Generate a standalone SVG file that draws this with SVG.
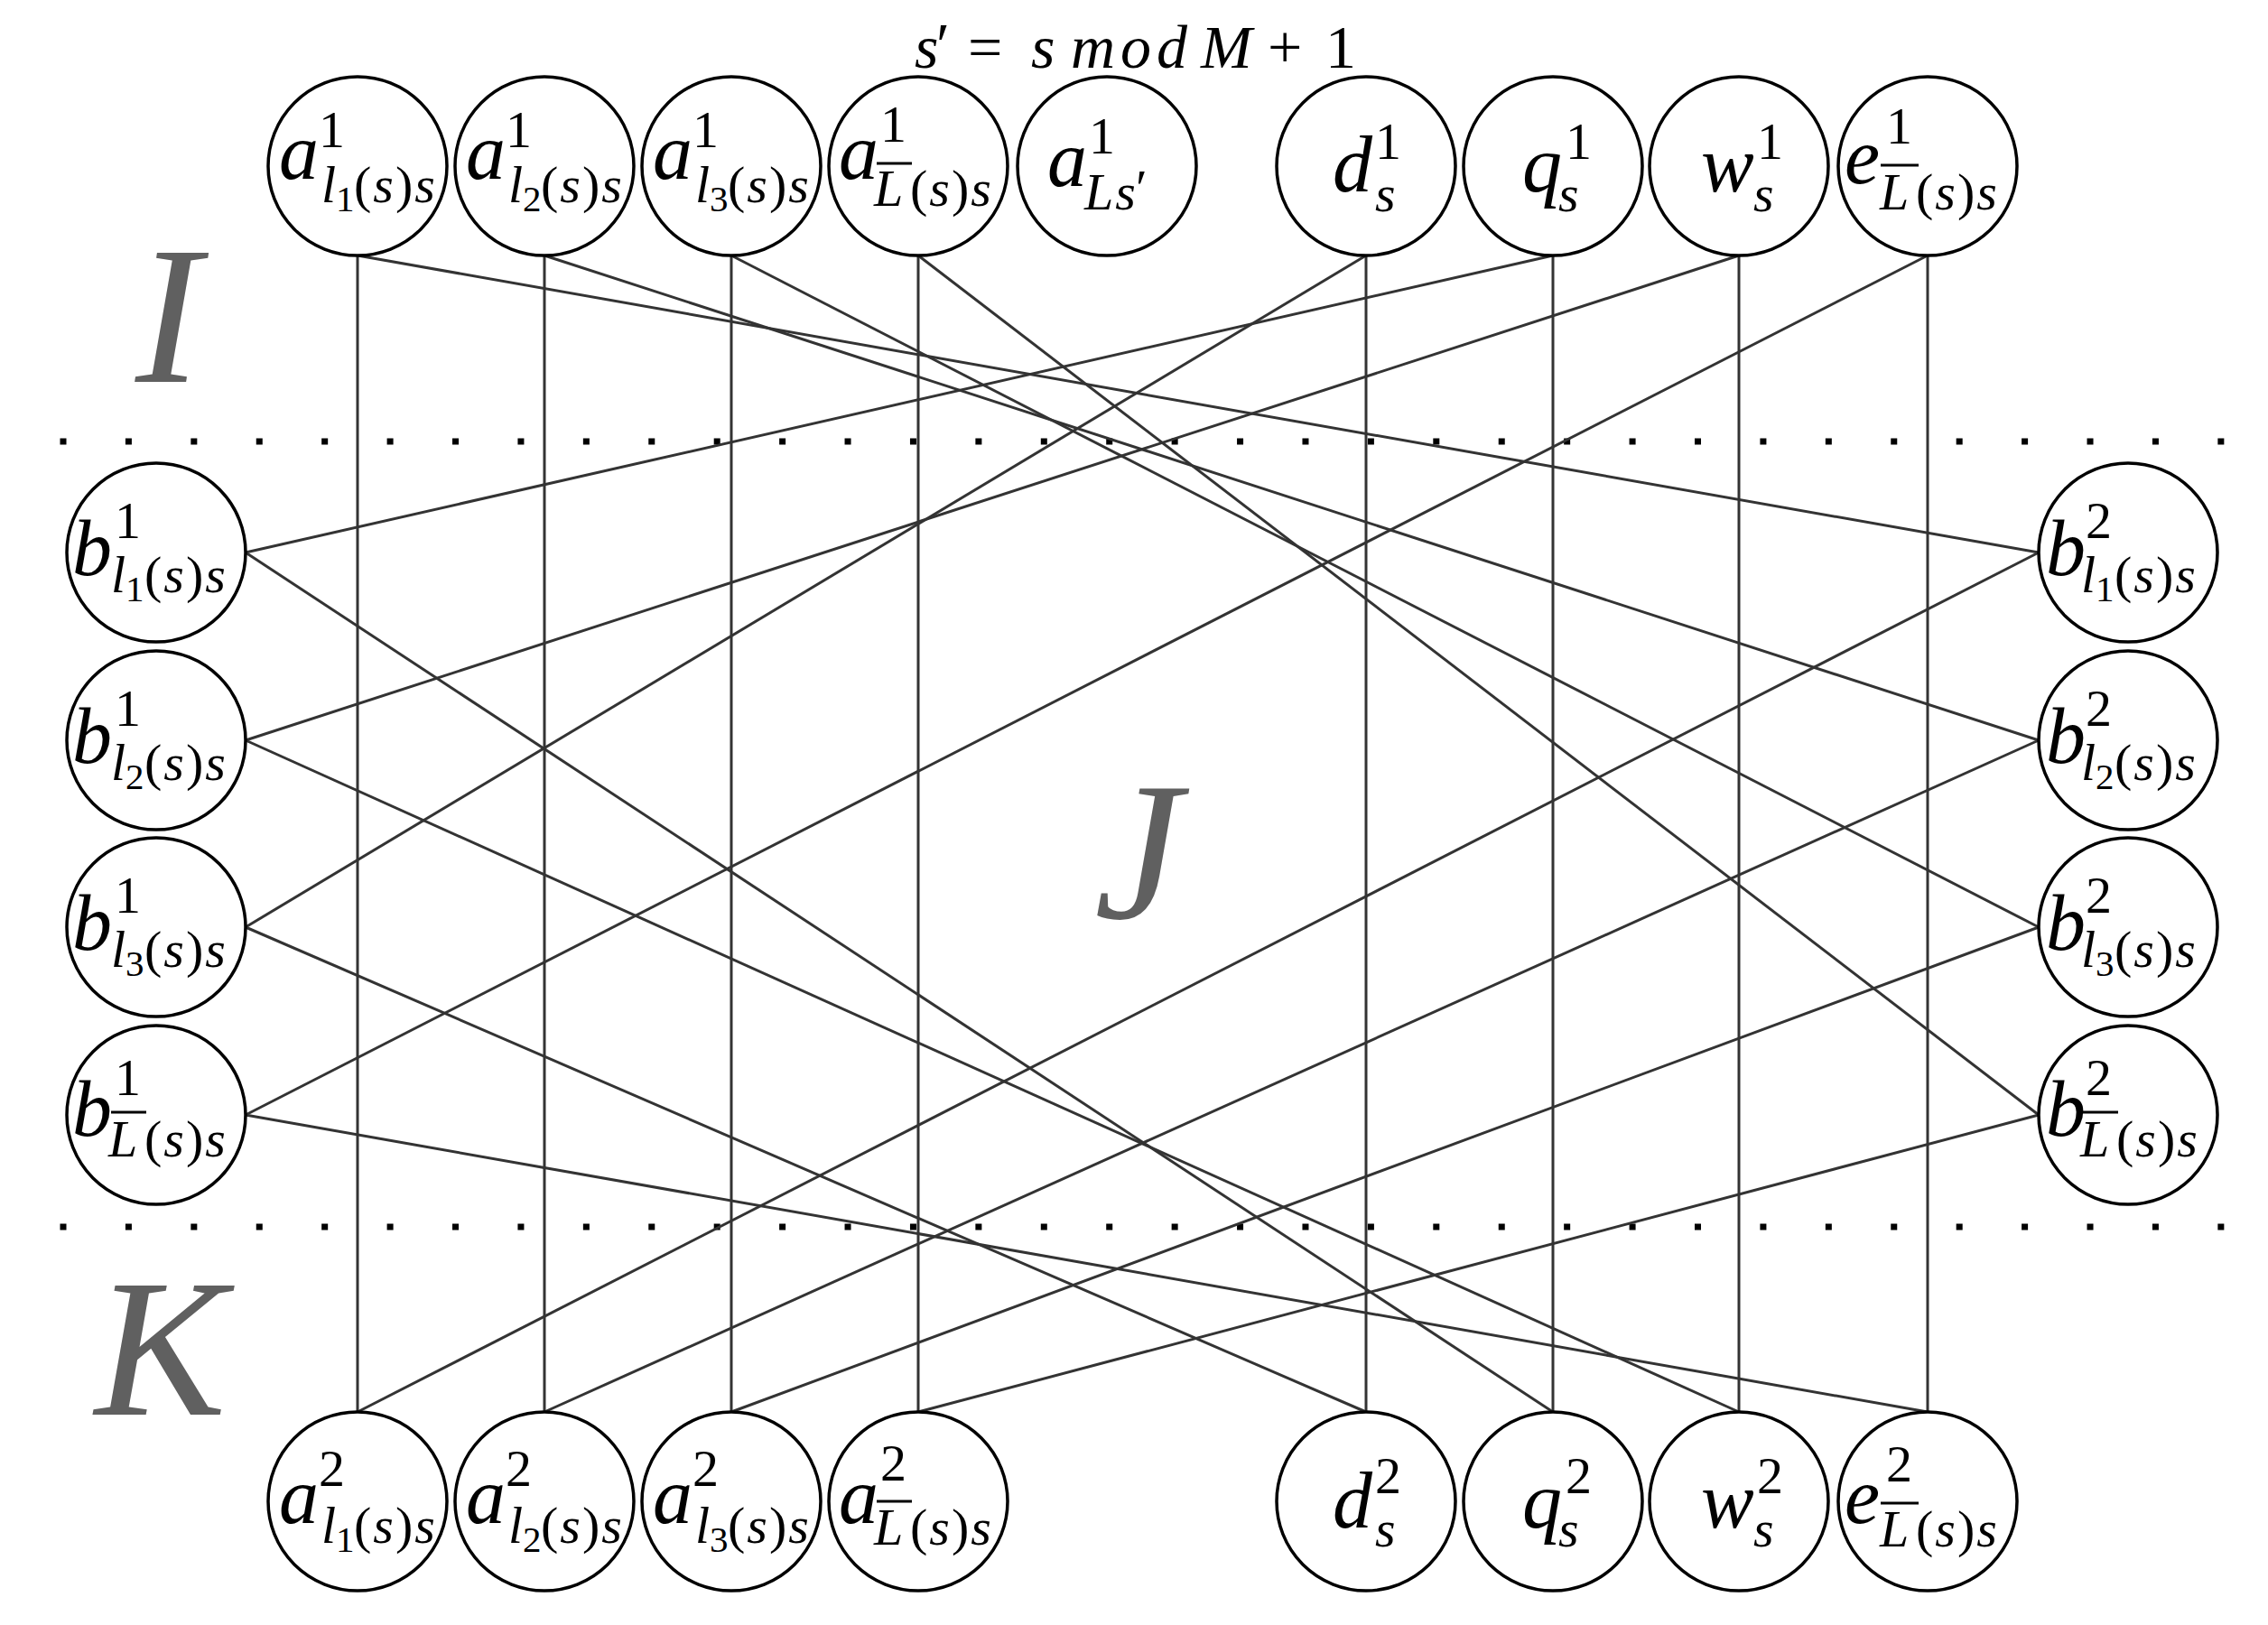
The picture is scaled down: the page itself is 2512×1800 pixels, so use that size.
<svg xmlns="http://www.w3.org/2000/svg" width="2512" height="1800" viewBox="0 0 2512 1800">
<style>
.m{font-family:"Liberation Serif","DejaVu Serif",serif;font-style:italic;fill:#000}
.L1{font-size:88px}
.L2{font-size:58px;letter-spacing:2px}
.L3{font-size:41px}
.n{font-style:normal}
.big{font-family:"Liberation Serif","DejaVu Serif",serif;font-style:italic;font-size:218px;fill:#606060}
.node{fill:#fff;stroke:#000;stroke-width:3.5}
.ob{stroke:#000;stroke-width:3}
.con line{stroke:#333;stroke-width:3;fill:none}
.dots{stroke:#000;stroke-width:7;stroke-dasharray:7 65.42}
</style>
<rect width="2512" height="1800" fill="#fff"/>

<line class="dots" x1="66.5" y1="489" x2="2475" y2="489"/>
<line class="dots" x1="66.5" y1="1359" x2="2475" y2="1359"/>

<g id="connectors" class="con">
<line x1="396" y1="283" x2="396" y2="1564"/>
<line x1="603" y1="283" x2="603" y2="1564"/>
<line x1="810" y1="283" x2="810" y2="1564"/>
<line x1="1017" y1="283" x2="1017" y2="1564"/>
<line x1="1513" y1="283" x2="1513" y2="1564"/>
<line x1="1720" y1="283" x2="1720" y2="1564"/>
<line x1="1926" y1="283" x2="1926" y2="1564"/>
<line x1="2135" y1="283" x2="2135" y2="1564"/>
<line x1="396" y1="283" x2="2258" y2="612"/>
<line x1="603" y1="283" x2="2258" y2="820"/>
<line x1="810" y1="283" x2="2258" y2="1027"/>
<line x1="1017" y1="283" x2="2258" y2="1235"/>
<line x1="1720" y1="283" x2="272" y2="612"/>
<line x1="1926" y1="283" x2="272" y2="820"/>
<line x1="1513" y1="283" x2="272" y2="1027"/>
<line x1="2135" y1="283" x2="272" y2="1235"/>
<line x1="272" y1="612" x2="1720" y2="1564"/>
<line x1="272" y1="820" x2="1926" y2="1564"/>
<line x1="272" y1="1027" x2="1513" y2="1564"/>
<line x1="272" y1="1235" x2="2135" y2="1564"/>
<line x1="2258" y1="612" x2="396" y2="1564"/>
<line x1="2258" y1="820" x2="603" y2="1564"/>
<line x1="2258" y1="1027" x2="810" y2="1564"/>
<line x1="2258" y1="1235" x2="1017" y2="1564"/>
</g>

<g id="title">
<text class="m" font-size="68"><tspan x="1013" y="75">s</tspan><tspan x="1037" y="72" class="n">′</tspan><tspan x="1072" y="75" class="n">=</tspan><tspan x="1142" y="75">s</tspan><tspan x="1186" y="75" letter-spacing="6">mod</tspan><tspan x="1330" y="75">M</tspan><tspan x="1404" y="75" class="n">+</tspan><tspan x="1468" y="75" class="n">1</tspan></text>
</g>

<g id="region-labels">
<text class="big" x="150" y="423">I</text>
<text class="big" x="1212" y="1017">J</text>
<text class="big" x="105" y="1567">K</text>
</g>

<!-- top row -->
<g id="a1-l1">
<circle class="node" cx="396" cy="184" r="99"/>
<text class="m"><tspan class="L1" x="309" y="198">a</tspan><tspan class="L2 n" x="353" y="163">1</tspan><tspan class="L2" x="356" y="224">l</tspan><tspan class="L3 n" x="372" y="234">1</tspan><tspan class="L2" x="392" y="224"><tspan class="n">(</tspan>s<tspan class="n">)</tspan>s</tspan></text>
</g>
<g id="a1-l2">
<circle class="node" cx="603" cy="184" r="99"/>
<text class="m"><tspan class="L1" x="516" y="198">a</tspan><tspan class="L2 n" x="560" y="163">1</tspan><tspan class="L2" x="563" y="224">l</tspan><tspan class="L3 n" x="579" y="234">2</tspan><tspan class="L2" x="599" y="224"><tspan class="n">(</tspan>s<tspan class="n">)</tspan>s</tspan></text>
</g>
<g id="a1-l3">
<circle class="node" cx="810" cy="184" r="99"/>
<text class="m"><tspan class="L1" x="723" y="198">a</tspan><tspan class="L2 n" x="767" y="163">1</tspan><tspan class="L2" x="770" y="224">l</tspan><tspan class="L3 n" x="786" y="234">3</tspan><tspan class="L2" x="806" y="224"><tspan class="n">(</tspan>s<tspan class="n">)</tspan>s</tspan></text>
</g>
<g id="a1-Lbar">
<circle class="node" cx="1017" cy="184" r="99"/>
<line class="ob" x1="971" y1="181" x2="1010" y2="181"/>
<text class="m"><tspan class="L2 n" x="975" y="157">1</tspan><tspan class="L1" x="929" y="198">a</tspan><tspan class="L2" x="968" y="228">L</tspan><tspan class="L2" x="1008" y="228"><tspan class="n">(</tspan>s<tspan class="n">)</tspan>s</tspan></text>
</g>
<g id="a1-Ls">
<circle class="node" cx="1226" cy="184" r="99"/>
<text class="m"><tspan class="L1" x="1160" y="206">a</tspan><tspan class="L2 n" x="1206" y="170">1</tspan><tspan class="L2" x="1201" y="232">Ls</tspan><tspan class="L2 n" x="1258" y="228">′</tspan></text>
</g>
<g id="d1">
<circle class="node" cx="1513" cy="184" r="99"/>
<text class="m"><tspan class="L1" x="1476" y="212">d</tspan><tspan class="L2 n" x="1523" y="176">1</tspan><tspan class="L2" x="1523" y="234">s</tspan></text>
</g>
<g id="q1">
<circle class="node" cx="1720" cy="184" r="99"/>
<text class="m"><tspan class="L1" x="1686" y="212">q</tspan><tspan class="L2 n" x="1734" y="176">1</tspan><tspan class="L2" x="1726" y="234">s</tspan></text>
</g>
<g id="w1">
<circle class="node" cx="1926" cy="184" r="99"/>
<text class="m"><tspan class="L1" x="1884" y="212">w</tspan><tspan class="L2 n" x="1946" y="176">1</tspan><tspan class="L2" x="1942" y="234">s</tspan></text>
</g>
<g id="e1-Lbar">
<circle class="node" cx="2135" cy="184" r="99"/>
<line class="ob" x1="2083" y1="183" x2="2125" y2="183"/>
<text class="m"><tspan class="L1" x="2043" y="203">e</tspan><tspan class="L2 n" x="2089" y="159">1</tspan><tspan class="L2" x="2082" y="232">L</tspan><tspan class="L2" x="2122" y="232"><tspan class="n">(</tspan>s<tspan class="n">)</tspan>s</tspan></text>
</g>

<!-- left column -->
<g id="b1-l1">
<circle class="node" cx="173" cy="612" r="99"/>
<text class="m"><tspan class="L1" x="80" y="637">b</tspan><tspan class="L2 n" x="127" y="596">1</tspan><tspan class="L2" x="123" y="656">l</tspan><tspan class="L3 n" x="139" y="666">1</tspan><tspan class="L2" x="160" y="656"><tspan class="n">(</tspan>s<tspan class="n">)</tspan>s</tspan></text>
</g>
<g id="b1-l2">
<circle class="node" cx="173" cy="820" r="99"/>
<text class="m"><tspan class="L1" x="80" y="845">b</tspan><tspan class="L2 n" x="127" y="804">1</tspan><tspan class="L2" x="123" y="864">l</tspan><tspan class="L3 n" x="139" y="874">2</tspan><tspan class="L2" x="160" y="864"><tspan class="n">(</tspan>s<tspan class="n">)</tspan>s</tspan></text>
</g>
<g id="b1-l3">
<circle class="node" cx="173" cy="1027" r="99"/>
<text class="m"><tspan class="L1" x="80" y="1052">b</tspan><tspan class="L2 n" x="127" y="1011">1</tspan><tspan class="L2" x="123" y="1071">l</tspan><tspan class="L3 n" x="139" y="1081">3</tspan><tspan class="L2" x="160" y="1071"><tspan class="n">(</tspan>s<tspan class="n">)</tspan>s</tspan></text>
</g>
<g id="b1-Lbar">
<circle class="node" cx="173" cy="1235" r="99"/>
<line class="ob" x1="123" y1="1232" x2="162" y2="1232"/>
<text class="m"><tspan class="L1" x="80" y="1258">b</tspan><tspan class="L2 n" x="127" y="1213">1</tspan><tspan class="L2" x="120" y="1281">L</tspan><tspan class="L2" x="160" y="1281"><tspan class="n">(</tspan>s<tspan class="n">)</tspan>s</tspan></text>
</g>

<!-- right column -->
<g id="b2-l1">
<circle class="node" cx="2357" cy="612" r="99"/>
<text class="m"><tspan class="L1" x="2266" y="637">b</tspan><tspan class="L2 n" x="2310" y="596">2</tspan><tspan class="L2" x="2305" y="656">l</tspan><tspan class="L3 n" x="2321" y="666">1</tspan><tspan class="L2" x="2342" y="656"><tspan class="n">(</tspan>s<tspan class="n">)</tspan>s</tspan></text>
</g>
<g id="b2-l2">
<circle class="node" cx="2357" cy="820" r="99"/>
<text class="m"><tspan class="L1" x="2266" y="845">b</tspan><tspan class="L2 n" x="2310" y="804">2</tspan><tspan class="L2" x="2305" y="864">l</tspan><tspan class="L3 n" x="2321" y="874">2</tspan><tspan class="L2" x="2342" y="864"><tspan class="n">(</tspan>s<tspan class="n">)</tspan>s</tspan></text>
</g>
<g id="b2-l3">
<circle class="node" cx="2357" cy="1027" r="99"/>
<text class="m"><tspan class="L1" x="2266" y="1052">b</tspan><tspan class="L2 n" x="2310" y="1011">2</tspan><tspan class="L2" x="2305" y="1071">l</tspan><tspan class="L3 n" x="2321" y="1081">3</tspan><tspan class="L2" x="2342" y="1071"><tspan class="n">(</tspan>s<tspan class="n">)</tspan>s</tspan></text>
</g>
<g id="b2-Lbar">
<circle class="node" cx="2357" cy="1235" r="99"/>
<line class="ob" x1="2307" y1="1232" x2="2346" y2="1232"/>
<text class="m"><tspan class="L1" x="2266" y="1258">b</tspan><tspan class="L2 n" x="2310" y="1213">2</tspan><tspan class="L2" x="2304" y="1281">L</tspan><tspan class="L2" x="2344" y="1281"><tspan class="n">(</tspan>s<tspan class="n">)</tspan>s</tspan></text>
</g>

<!-- bottom row -->
<g id="a2-l1">
<circle class="node" cx="396" cy="1663" r="99"/>
<text class="m"><tspan class="L1" x="309" y="1687">a</tspan><tspan class="L2 n" x="353" y="1646">2</tspan><tspan class="L2" x="356" y="1709">l</tspan><tspan class="L3 n" x="372" y="1719">1</tspan><tspan class="L2" x="392" y="1709"><tspan class="n">(</tspan>s<tspan class="n">)</tspan>s</tspan></text>
</g>
<g id="a2-l2">
<circle class="node" cx="603" cy="1663" r="99"/>
<text class="m"><tspan class="L1" x="516" y="1687">a</tspan><tspan class="L2 n" x="560" y="1646">2</tspan><tspan class="L2" x="563" y="1709">l</tspan><tspan class="L3 n" x="579" y="1719">2</tspan><tspan class="L2" x="599" y="1709"><tspan class="n">(</tspan>s<tspan class="n">)</tspan>s</tspan></text>
</g>
<g id="a2-l3">
<circle class="node" cx="810" cy="1663" r="99"/>
<text class="m"><tspan class="L1" x="723" y="1687">a</tspan><tspan class="L2 n" x="767" y="1646">2</tspan><tspan class="L2" x="770" y="1709">l</tspan><tspan class="L3 n" x="786" y="1719">3</tspan><tspan class="L2" x="806" y="1709"><tspan class="n">(</tspan>s<tspan class="n">)</tspan>s</tspan></text>
</g>
<g id="a2-Lbar">
<circle class="node" cx="1017" cy="1663" r="99"/>
<line class="ob" x1="971" y1="1663" x2="1010" y2="1663"/>
<text class="m"><tspan class="L1" x="929" y="1687">a</tspan><tspan class="L2 n" x="975" y="1640">2</tspan><tspan class="L2" x="968" y="1711">L</tspan><tspan class="L2" x="1008" y="1711"><tspan class="n">(</tspan>s<tspan class="n">)</tspan>s</tspan></text>
</g>
<g id="d2">
<circle class="node" cx="1513" cy="1663" r="99"/>
<text class="m"><tspan class="L1" x="1476" y="1692">d</tspan><tspan class="L2 n" x="1523" y="1654">2</tspan><tspan class="L2" x="1523" y="1713">s</tspan></text>
</g>
<g id="q2">
<circle class="node" cx="1720" cy="1663" r="99"/>
<text class="m"><tspan class="L1" x="1686" y="1692">q</tspan><tspan class="L2 n" x="1734" y="1654">2</tspan><tspan class="L2" x="1726" y="1713">s</tspan></text>
</g>
<g id="w2">
<circle class="node" cx="1926" cy="1663" r="99"/>
<text class="m"><tspan class="L1" x="1884" y="1692">w</tspan><tspan class="L2 n" x="1946" y="1654">2</tspan><tspan class="L2" x="1942" y="1713">s</tspan></text>
</g>
<g id="e2-Lbar">
<circle class="node" cx="2135" cy="1663" r="99"/>
<line class="ob" x1="2083" y1="1665" x2="2125" y2="1665"/>
<text class="m"><tspan class="L1" x="2043" y="1687">e</tspan><tspan class="L2 n" x="2089" y="1641">2</tspan><tspan class="L2" x="2082" y="1713">L</tspan><tspan class="L2" x="2122" y="1713"><tspan class="n">(</tspan>s<tspan class="n">)</tspan>s</tspan></text>
</g>
</svg>
